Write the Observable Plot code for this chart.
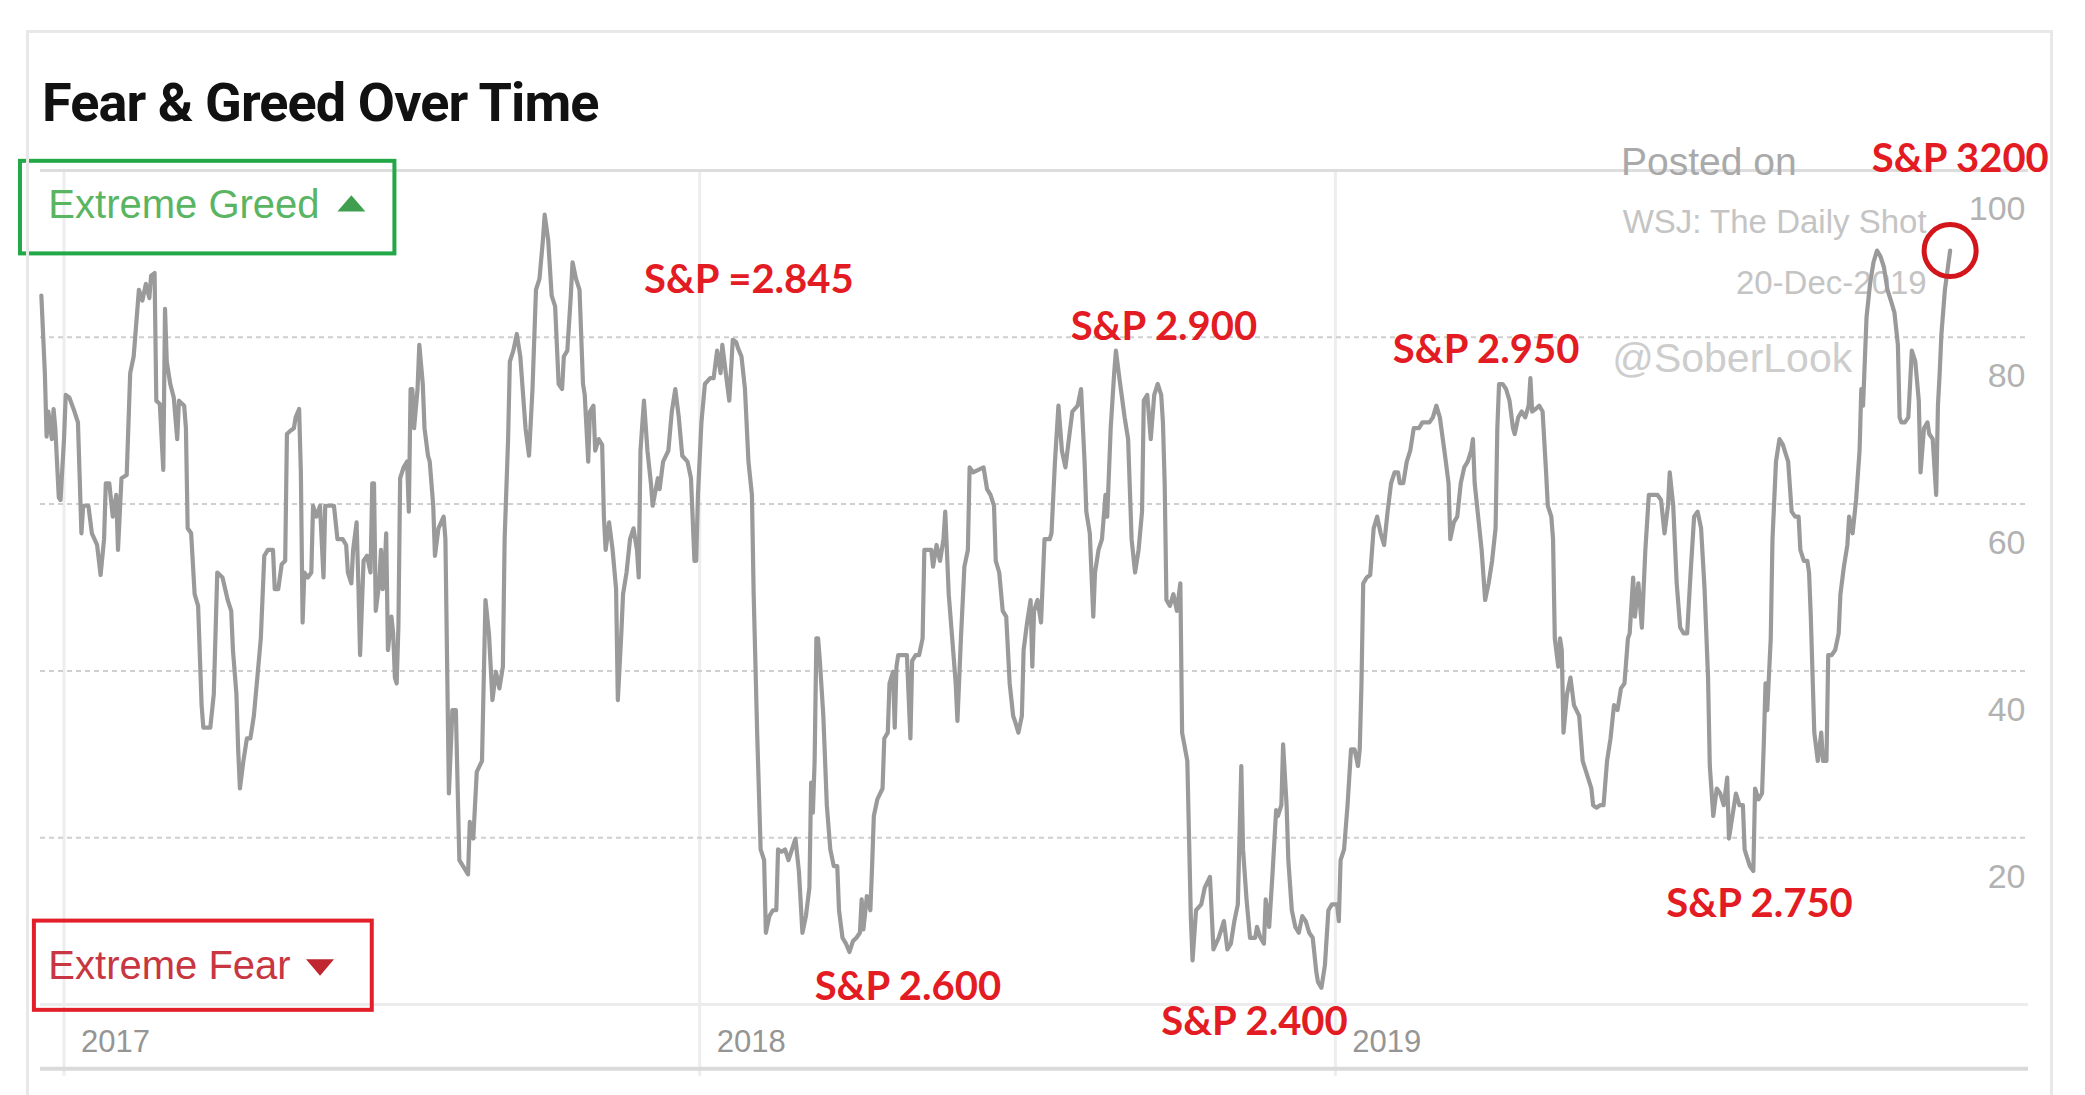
<!DOCTYPE html>
<html>
<head>
<meta charset="utf-8">
<script src="https://cdn.jsdelivr.net/npm/d3@7"></script>
<script src="https://cdn.jsdelivr.net/npm/@observablehq/plot@0.6"></script>
<style>
  html, body { margin: 0; padding: 0; background: #fff; width: 2085px; height: 1095px; overflow: hidden; }
  #wrap { position: relative; width: 2085px; height: 1095px; }
  #card { position: absolute; left: 26px; top: 30px; width: 2027px; height: 1120px; border: 3px solid #e8e8e8; box-sizing: border-box; pointer-events: none; }
  #title { height: 130px; box-sizing: border-box; padding-left: 42px; display: flex; align-items: flex-end;
           font-family: Roboto, "Liberation Sans", Arial, sans-serif; font-weight: 700; font-size: 54px; line-height: 54px;
           letter-spacing: -0.9px; color: #111; }
  #chart svg { display: block; overflow: visible; }
</style>
</head>
<body>
<div id="wrap">
  <div id="card"></div>
  <div id="title">Fear &amp; Greed Over Time</div>
  <div id="chart"></div>
</div>
<script>
// ---- data (day offset from 2017-01-01, index value) ----
const firstDay = "2017-01-01";
const fearGreed = [
  [-13,85.0],[-11,75.7],[-10,68.1],[-9,71.1],[-7,67.8],[-6,71.4],[-5,69.1],[-3,60.8],[-2,60.5],[0,67.8],[1,73.1],[3,72.8],[6,71.1],[8,69.8],[10,56.5],[11,59.8],[14,59.8],[16,56.5],[19,55.1],[21,51.5],[23,55.8],[24,62.5],[26,62.5],[28,58.5],[30,61.1],[31,54.5],[33,63.1],[36,63.5],[38,75.7],[40,77.7],[43,85.7],[45,84.4],[47,86.4],[49,84.7],[50,87.4],[52,87.7],[53,72.4],[55,72.0],[57,64.1],[58,83.4],[59,77.1],[61,74.4],[63,72.8],[65,67.8],[66,72.4],[69,71.8],[70,69.1],[71,57.1],[73,56.5],[75,49.2],[77,47.8],[79,35.9],[80,33.2],[84,33.2],[86,37.2],[88,51.8],[91,51.2],[94,48.5],[96,47.2],[97,42.5],[99,37.2],[100,30.6],[101,25.9],[103,29.2],[105,31.9],[107,31.9],[109,34.6],[111,39.2],[113,43.9],[115,53.8],[117,54.5],[120,54.5],[121,49.8],[123,49.8],[125,52.8],[127,53.2],[128,68.4],[130,68.8],[132,69.1],[133,70.4],[135,71.4],[136,63.8],[137,45.8],[138,51.8],[140,51.2],[142,51.8],[143,59.8],[145,58.5],[147,59.8],[149,51.2],[150,59.8],[153,59.8],[155,59.8],[157,55.8],[160,55.8],[162,55.1],[163,51.8],[165,50.5],[166,54.5],[168,57.8],[169,50.5],[170,41.9],[172,53.2],[174,53.8],[176,51.8],[177,62.5],[178,62.5],[179,47.2],[181,50.5],[182,54.5],[183,49.8],[184,51.8],[185,56.5],[186,42.5],[188,46.5],[189,44.5],[190,39.2],[191,38.5],[192,45.2],[193,63.1],[195,64.4],[197,65.1],[198,59.1],[199,73.8],[200,73.8],[201,69.1],[203,73.8],[204,79.1],[206,74.4],[207,69.1],[209,65.8],[210,65.1],[212,59.8],[213,53.8],[215,57.1],[218,58.5],[219,55.8],[221,25.3],
  [223,35.3],[225,35.3],[227,17.3],[230,16.3],[232,15.6],[233,21.9],[235,19.9],[237,27.9],[240,29.2],[242,48.5],[244,44.5],[246,36.5],[248,39.9],[250,37.9],[252,40.5],[253,55.8],[255,67.8],[256,77.1],[258,78.4],[260,80.4],[262,77.7],[265,69.1],[267,65.8],[269,73.8],[271,85.7],[273,87.0],[275,91.7],[276,94.7],[278,91.7],[280,85.0],[282,83.7],[284,74.4],[286,73.8],[287,77.7],[289,78.4],[291,85.0],[292,89.0],[294,87.0],[296,85.7],[298,74.4],[299,73.1],[300,69.1],[301,65.1],[302,71.1],[304,71.8],[305,66.4],[307,67.8],[309,67.1],[310,58.5],[311,54.5],[313,57.8],[315,54.5],[317,49.8],[318,36.5],[320,44.5],[321,49.2],[323,51.8],[325,55.8],[327,57.1],[329,54.5],[330,51.2],[331,66.4],[333,72.4],[335,66.4],[337,62.5],[338,59.8],[341,63.1],[342,61.8],[344,65.1],[347,66.4],[349,71.1],[351,73.8],[353,70.4],[355,65.8],[358,65.1],[360,63.1],[362,53.2],[363,53.2],[364,61.1],[366,69.8],[368,74.4],[371,75.1],[373,75.1],[375,78.4],[377,75.7],[378,79.1],[380,75.7],[382,72.4],[384,79.7],[386,79.4],[387,78.7],[389,77.7],[391,73.8],[393,65.1],[395,61.1],[396,49.2],[398,32.6],[400,18.6],[402,17.3],[403,8.6],[405,10.6],[407,11.3],[409,11.3],[410,18.6],[412,18.3],[414,18.6],[416,17.3],[418,18.6],[420,19.9],[422,15.9],[424,8.6],[426,10.6],[428,14.0],[429,26.6],[430,23.0],[431,29.2],[432,43.9],[433,43.9],[434,41.2],[436,34.6],[438,23.9],[440,18.6],[442,16.6],[444,16.6],[445,11.3],[447,8.0],[449,7.3],[451,6.3],
  [453,7.6],[455,8.0],[457,8.6],[458,12.6],[459,9.0],[461,13.0],[463,11.3],[464,16.6],[465,22.6],[467,24.6],[470,25.9],[471,31.9],[473,32.6],[474,38.5],[476,39.9],[477,33.2],[478,40.5],[479,41.9],[481,41.9],[484,41.9],[486,31.9],[487,41.2],[489,41.9],[491,41.9],[493,43.9],[494,54.5],[497,54.5],[498,54.5],[499,52.5],[501,55.1],[503,53.2],[505,55.8],[506,59.1],[508,49.2],[510,43.9],[512,38.5],[513,34.0],[515,43.9],[517,52.5],[519,54.5],[520,64.4],[522,63.8],[525,64.1],[528,64.4],[530,61.8],[532,61.1],[534,59.8],[535,53.2],[537,51.8],[539,47.2],[541,46.5],[543,38.5],[545,34.6],[546,34.0],[548,32.6],[550,34.6],[551,42.5],[553,45.8],[555,48.5],[556,40.5],[557,47.2],[559,48.5],[561,45.8],[563,55.8],[565,55.8],[566,55.8],[567,56.5],[569,65.1],[571,71.8],[573,66.4],[575,64.4],[577,67.8],[579,71.1],[582,71.8],[584,73.8],[586,65.1],[587,59.1],[589,56.5],[591,46.5],[592,51.8],[594,54.5],[596,55.8],[598,61.1],[599,58.5],[601,69.1],[603,75.7],[604,78.4],[606,75.1],[609,70.4],[611,67.8],[613,55.8],[615,51.8],[617,54.5],[619,59.1],[620,72.4],[622,73.1],[624,67.8],[626,73.1],[628,74.4],[630,73.1],[631,69.8],[632,62.5],[633,48.5],[635,47.8],[637,49.2],[639,47.2],[641,50.5],[642,32.6],[645,29.2],[647,10.6],[648,5.3],[650,11.3],[653,12.0],[655,14.0],[658,15.3],[660,6.6],[663,8.0],[666,10.0],[668,6.6],[670,7.3],[672,10.0],[674,12.0],[676,28.6],[677,18.6],[679,12.6],
  [681,8.0],[684,8.0],[685,9.3],[687,8.0],[689,7.3],[690,12.6],[692,9.3],[694,16.0],[696,23.3],[697,22.6],[699,23.9],[700,31.2],[702,23.9],[703,17.3],[705,11.3],[707,9.3],[709,8.6],[711,10.6],[713,10.0],[715,8.6],[717,8.0],[719,4.0],[720,2.7],[722,2.0],[724,4.7],[726,11.3],[728,12.0],[731,12.0],[732,10.0],[733,17.3],[735,18.6],[737,23.9],[739,30.6],[741,30.6],[743,28.6],[744,30.6],[745,38.5],[746,50.5],[748,51.2],[750,51.5],[752,57.1],[754,58.5],[756,56.5],[758,55.1],[760,59.1],[762,62.5],[764,63.8],[766,63.8],[767,62.5],[769,62.5],[771,65.1],[773,66.4],[775,69.1],[778,69.1],[780,69.8],[784,69.8],[786,70.4],[788,71.8],[790,70.4],[793,65.8],[795,62.5],[796,55.8],[798,57.8],[800,58.5],[802,62.5],[804,64.4],[806,65.1],[808,66.4],[809,67.8],[810,62.5],[812,58.5],[814,54.5],[816,48.5],[818,50.5],[820,53.2],[822,57.1],[823,69.1],[824,74.4],[826,74.4],[828,73.8],[830,72.4],[832,69.1],[833,68.4],[835,70.4],[837,71.1],[839,70.4],[841,71.8],[842,75.1],[843,71.1],[845,71.4],[847,71.8],[849,71.1],[851,63.8],[852,59.8],[854,58.5],[855,55.8],[856,43.9],[858,40.5],[859,43.9],[860,42.5],[861,32.6],[863,37.2],[865,39.2],[867,35.9],[870,34.6],[872,29.2],[874,27.9],[877,25.9],[878,23.9],[880,23.6],[882,23.9],[884,23.9],[886,29.2],[888,31.9],[890,35.9],[892,35.3],[894,37.9],[896,38.5],[898,43.9],[899,44.5],[901,51.2],[902,46.5],[904,50.5],[906,45.2],[908,54.5],[910,61.1],
  [913,61.1],[915,61.1],[917,60.5],[919,56.5],[921,59.8],[922,63.8],[924,59.8],[926,50.5],[928,45.2],[930,44.5],[932,44.5],[934,51.8],[936,58.5],[938,59.1],[940,57.1],[942,49.8],[944,39.2],[945,28.6],[947,22.6],[949,25.9],[951,25.3],[953,23.9],[955,27.2],[956,19.9],[958,22.6],[960,25.3],[962,23.9],[964,23.9],[965,18.6],[966,17.9],[968,16.6],[970,16.0],[971,25.9],[973,24.6],[975,25.3],[976,31.2],[977,38.5],[978,35.3],[980,43.9],[981,55.8],[983,65.1],[985,67.8],[987,67.1],[988,66.4],[990,65.1],[992,59.1],[994,58.5],[996,58.5],[997,54.5],[999,53.2],[1001,53.2],[1002,51.8],[1003,46.5],[1005,32.6],[1007,29.2],[1009,32.6],[1010,29.2],[1012,29.2],[1013,41.9],[1015,41.9],[1017,42.5],[1019,44.5],[1020,49.2],[1022,52.5],[1024,55.1],[1025,58.5],[1027,56.5],[1029,60.5],[1031,66.4],[1032,73.8],[1033,71.8],[1034,77.1],[1035,82.4],[1037,86.4],[1039,89.0],[1041,90.4],[1043,89.7],[1045,88.4],[1047,85.7],[1049,84.4],[1051,83.0],[1053,79.1],[1054,70.4],[1055,69.8],[1057,69.8],[1059,70.4],[1061,78.4],[1063,77.1],[1065,72.4],[1066,63.8],[1068,69.1],[1070,69.8],[1071,68.4],[1073,67.8],[1075,61.1],[1076,71.8],[1077,75.7],[1078,80.4],[1080,85.7],[1083,90.4]
];

const yTicks = [20, 40, 60, 80, 100];
const dashedLevels = [20, 40, 60, 80];
const yearStarts = ["2017-01-01", "2018-01-01", "2019-01-01"];
const xExtent = ["2016-12-18T12:00Z", "2020-02-03"];
const baseLevel = [0];
const topLevel = [100];
const axisFloor = [-7.7];

const spLabels = [
  {date: "2017-11-30", value: 86.9, text: "S&P =2.845"},
  {date: "2018-08-02", value: 81.2, text: "S&P 2.900"},
  {date: "2019-02-03", value: 78.4, text: "S&P 2.950"},
  {date: "2019-11-05", value: 101.4, text: "S&P 3200"},
  {date: "2018-03-08", value: 2.1, text: "S&P 2.600"},
  {date: "2018-09-23", value: -2.1, text: "S&P 2.400"},
  {date: "2019-07-10", value: 12.0, text: "S&P 2.750"}
];
const postedNote = [{date: "2019-06-14", value: 100.9, text: "Posted on"}];
const sourceNotes = [
  {date: "2019-06-15", value: 93.8, text: "WSJ: The Daily Shot"},
  {date: "2019-08-19", value: 86.4, text: "20-Dec-2019"}
];
const handleNote = [{date: "2019-06-09", value: 77.4, text: "@SoberLook"}];

const legendBoxes = [
  {from: "2016-12-07", to: "2017-07-10", low: 90.0, high: 101.1, kind: "greed"},
  {from: "2016-12-15", to: "2017-06-27", low: -0.7, high: 10.0, kind: "fear"}
];
const legendLabels = [
  {date: "2016-12-23", value: 95.9, text: "Extreme Greed", kind: "greed"},
  {date: "2016-12-23", value: 4.6, text: "Extreme Fear", kind: "fear"}
];
const legendArrows = [
  {date: "2017-06-15", value: 96.0, kind: "greed"},
  {date: "2017-05-28", value: 4.5, kind: "fear"}
];

// ---- build ----
const t0 = new Date(firstDay).getTime();
const lineData = fearGreed.map(([d, v]) => ({date: new Date(t0 + d * 864e5), value: v}));
const lastPoint = [lineData[lineData.length - 1]];
const asDate = s => new Date(s);

const triUp = {draw(ctx, size) { const r = Math.sqrt(size / Math.PI); ctx.moveTo(-r, 0.55 * r); ctx.lineTo(r, 0.55 * r); ctx.lineTo(0, -0.62 * r); ctx.closePath(); }};
const triDown = {draw(ctx, size) { const r = Math.sqrt(size / Math.PI); ctx.moveTo(-r, -0.55 * r); ctx.lineTo(r, -0.55 * r); ctx.lineTo(0, 0.62 * r); ctx.closePath(); }};

const sans = "'Liberation Sans', Arial, Helvetica, sans-serif";
const kindIs = k => d => d.kind === k;

const chart = Plot.plot({
  width: 2085,
  height: 965,
  marginLeft: 40,
  marginRight: 57,
  marginTop: 40,
  marginBottom: 91,
  x: {type: "utc", domain: xExtent.map(asDate)},
  y: {domain: [0, 100]},
  style: {fontFamily: sans, background: "transparent", overflow: "visible"},
  marks: [
    Plot.ruleX(yearStarts.map(asDate), {x: d => d, y1: -8.6, y2: 100, stroke: "#ededed", strokeWidth: 3}),
    Plot.ruleY(topLevel, {stroke: "#dddddd", strokeWidth: 3}),
    Plot.ruleY(dashedLevels, {stroke: "#cfcfcf", strokeWidth: 2, strokeDasharray: "5,4"}),
    Plot.ruleY(baseLevel, {stroke: "#ececec", strokeWidth: 3}),
    Plot.ruleY(axisFloor, {stroke: "#dadada", strokeWidth: 4}),
    Plot.axisY(yTicks, {anchor: "right", tickSize: 0, tickPadding: 0, textAnchor: "end", dx: -3, dy: 39,
      fontSize: 34, color: "#b2b2b2", label: null, fontFamily: sans}),
    Plot.axisX(yearStarts.map(asDate), {anchor: "bottom", tickSize: 0, tickPadding: 25, textAnchor: "start", dx: 17,
      fontSize: 31, color: "#959595", label: null, tickFormat: d => String(d.getUTCFullYear()), fontFamily: sans}),

    // watermark notes
    Plot.text(postedNote, {x: d => asDate(d.date), y: "value", text: "text", textAnchor: "start", lineAnchor: "middle",
      fontSize: 39, fill: "#a9a9a9", fontFamily: sans}),
    Plot.text(sourceNotes, {x: d => asDate(d.date), y: "value", text: "text", textAnchor: "start", lineAnchor: "middle",
      fontSize: 33, fill: "#c4c4c4", fontFamily: sans}),
    Plot.text(handleNote, {x: d => asDate(d.date), y: "value", text: "text", textAnchor: "start", lineAnchor: "middle",
      fontSize: 41, fill: "#cdcdcd", fontFamily: sans}),

    // the series
    Plot.line(lineData, {x: "date", y: "value", stroke: "#9a9a9a", strokeWidth: 4.2, strokeLinejoin: "round", strokeLinecap: "round"}),

    // legend boxes
    Plot.rect(legendBoxes.filter(kindIs("greed")), {x1: d => asDate(d.from), x2: d => asDate(d.to), y1: "low", y2: "high",
      fill: "none", stroke: "#22a847", strokeWidth: 4}),
    Plot.rect(legendBoxes.filter(kindIs("fear")), {x1: d => asDate(d.from), x2: d => asDate(d.to), y1: "low", y2: "high",
      fill: "none", stroke: "#e3202a", strokeWidth: 4}),
    Plot.text(legendLabels.filter(kindIs("greed")), {x: d => asDate(d.date), y: "value", text: "text", textAnchor: "start",
      lineAnchor: "middle", fontSize: 40, fill: "#5ab563", fontFamily: sans}),
    Plot.text(legendLabels.filter(kindIs("fear")), {x: d => asDate(d.date), y: "value", text: "text", textAnchor: "start",
      lineAnchor: "middle", fontSize: 40, fill: "#c83641", fontFamily: sans}),
    Plot.dot(legendArrows.filter(kindIs("greed")), {x: d => asDate(d.date), y: "value", r: 14, symbol: triUp, fill: "#3f9f4f", stroke: "none"}),
    Plot.dot(legendArrows.filter(kindIs("fear")), {x: d => asDate(d.date), y: "value", r: 14, symbol: triDown, fill: "#bf2630", stroke: "none"}),

    // red annotations
    Plot.text(spLabels, {x: d => asDate(d.date), y: "value", text: "text", textAnchor: "start", lineAnchor: "middle",
      fontSize: 40, fontWeight: 700, fill: "#e31b23", fontFamily: "Lato, 'Open Sans', sans-serif"}),
    Plot.dot(lastPoint, {x: "date", y: "value", r: 26, fill: "none", stroke: "#d3151c", strokeWidth: 5})
  ]
});

document.getElementById("chart").appendChild(chart);
</script>
</body>
</html>
